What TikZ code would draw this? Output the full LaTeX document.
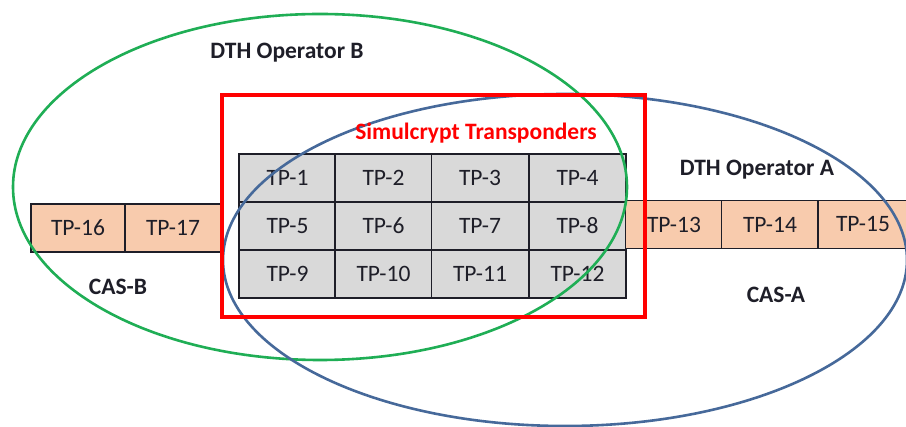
\documentclass[tikz,border=0pt]{standalone}
\usepackage{fontspec}
\setmainfont{Carlito}
\definecolor{cellgray}{HTML}{D9D9D9}
\definecolor{peach}{HTML}{F8CBAD}
\definecolor{opgreen}{HTML}{1FAE55}
\definecolor{opblue}{HTML}{46699A}
\definecolor{inkdark}{HTML}{1E1E28}
\begin{document}
\begin{tikzpicture}[x=1pt,y=-1pt,
  cell/.style={draw=inkdark, line width=1.2pt, minimum width=97pt, minimum height=48pt,
    inner sep=0pt, outer sep=0pt, font=\fontsize{23.5}{26}\selectfont, text=inkdark},
  grid/.style={cell, fill=cellgray},
  extra/.style={cell, fill=peach},
  label/.style={font=\bfseries\fontsize{23.5}{26}\selectfont, text=inkdark}]
\useasboundingbox (0,0) rectangle (906,427);
\fill[white] (0,0) rectangle (906,427);

% shared transponders
\foreach \r/\y in {0/178,1/226,2/274}{
  \foreach \c/\x in {0/287.5,1/383.5,2/480,3/577.5}{
    \pgfmathtruncatemacro{\n}{\r*4+\c+1}
    \node[grid, minimum width=97pt] (tp\n) at (\x,\y) {TP-\n};
  }
}

% operator A only
\node[extra] (tp13) at (674,224.5) {TP-13};
\node[extra] (tp14) at (770,224.5) {TP-14};
\node[extra, minimum width=90pt] (tp15) at (863,224.5) {TP-15};

% operator B only
\node[extra, minimum width=94pt] (tp16) at (78,228) {TP-16};
\node[extra, minimum width=96pt] (tp17) at (173,228) {TP-17};

% operator ellipses
\draw[opgreen, line width=2.6pt] (320,187) ellipse [x radius=307pt, y radius=173pt];
\draw[opblue, line width=2.6pt] (565,260) ellipse [x radius=342pt, y radius=166pt];

% simulcrypt frame
\draw[red, line width=4pt] (222,95) rectangle (645,317);

% labels
\node[label] (opB) at (287,53) {DTH Operator B};
\node[label] (opA) at (757,170) {DTH Operator A};
\node[label] (casB) at (118,287) {CAS-B};
\node[label] (casA) at (776,295) {CAS-A};
\node[label, text=red] (simul) at (476,133) {Simulcrypt Transponders};
\end{tikzpicture}
\end{document}
